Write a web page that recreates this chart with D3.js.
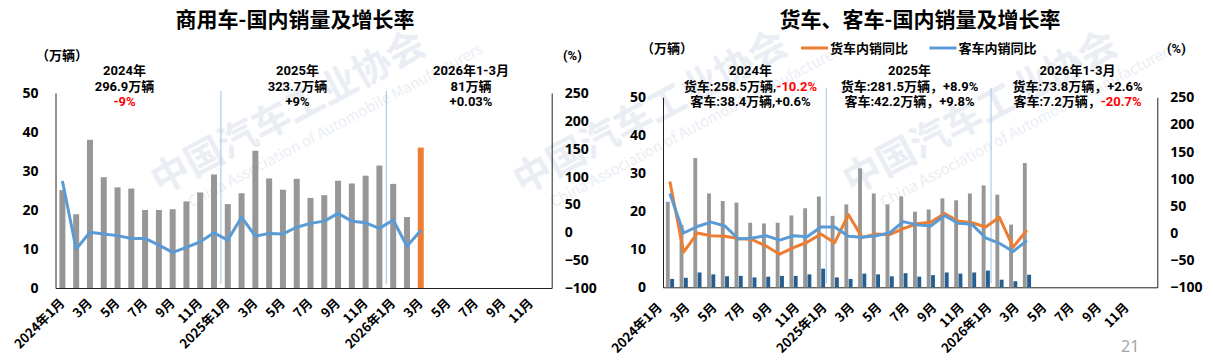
<!DOCTYPE html>
<html><head><meta charset="utf-8">
<script src="https://cdn.jsdelivr.net/npm/d3@7"></script>
<style>
body{margin:0;background:#fff;}
svg{display:block;font-family:"Noto Sans CJK SC","Noto Sans",sans-serif;}
</style>
</head><body>
<svg id="c" width="1213" height="362"></svg>
<script>
// ---------- data ----------
const months = [];
for (const y of [2024, 2025, 2026]) for (let m = 1; m <= 12; m++) months.push(y + "-" + m);
const tickLabels = ["2024年1月","3月","5月","7月","9月","11月","2025年1月","3月","5月","7月","9月","11月","2026年1月","3月","5月","7月","9月","11月"];
// 商用车 domestic sales (万辆), Jan 2024 – Mar 2026
const cvSales = [25.1,18.9,38.0,28.4,25.8,25.5,20.0,20.0,20.2,22.2,24.5,29.1,
                 21.5,24.3,35.2,28.1,25.2,28.0,23.1,23.8,27.5,26.8,28.8,31.4,
                 26.7,18.2,36.0];
const cvYoY   = [92,-30,0,-3,-6,-11,-11,-23,-36,-27,-17,-1,
                 -14,27,-7,-2,-3,9,16,20,34,20,17,7,
                 22,-25,3];
// 货车 / 客车 domestic sales (万辆)
const truckSales = [22.5,16.4,34.0,24.7,22.7,22.3,17.0,16.8,17.0,18.9,20.8,23.9,
                    18.8,21.8,31.3,24.7,21.8,23.9,19.9,20.5,23.4,22.9,24.7,26.8,
                    24.4,16.5,32.7];
const busSales   = [2.2,2.5,3.9,3.4,2.9,3.0,2.6,2.8,3.0,3.0,3.4,4.9,
                    2.6,2.2,3.6,3.4,2.9,3.7,2.8,3.2,3.9,3.6,3.9,4.4,
                    2.0,1.6,3.3];
const truckYoY = [95,-35,0,-5,-6,-10,-12,-24,-39,-27,-17,-2,
                  -18,34,-8,-2,-3,8,17,20,36,22,19,11,
                  29,-26,5];
const busYoY   = [73,0,12,20,13,-11,-9,-5,-13,-5,-7,11,
                  11,-6,-8,-5,0,21,15,13,32,18,16,-9,
                  -19,-34,-14];
const leftTicks = [0,10,20,30,40,50];
const rightTicks = [-100,-50,0,50,100,150,200,250];
const legendLabels = ["货车内销同比","客车内销同比"];
const leftNotes = [
  [["2024年"],["296.9万辆"],[["-9%","red"]]],
  [["2025年"],["323.7万辆"],["+9%"]],
  [["2026年1-3月"],["81万辆"],["+0.03%"]]
];
const rightNotes = [
  [["2024年"],["货车:258.5万辆,",["-10.2%","red"]],["客车:38.4万辆,+0.6%"]],
  [["2025年"],["货车:281.5万辆，+8.9%"],["客车:42.2万辆，+9.8%"]],
  [["2026年1-3月"],["货车:73.8万辆，+2.6%"],["客车:7.2万辆，",["-20.7%","red"]]]
];

// ---------- colours ----------
const GRAY = "#979797", ORANGE = "#ED7D31", BLUE = "#5B9BD5", NAVY = "#255E91", SEP = "#9DC3E6";
const NOTE_FONT = 'Roboto,"Noto Sans CJK SC",sans-serif';

const svg = d3.select("#c");

// watermark
const wm = svg.append("g").attr("fill", "#e2e8f0").attr("opacity", 0.7);
[[160,195],[522,195],[852,195]].forEach(([x,y]) => {
  const g = wm.append("g").attr("transform", `translate(${x},${y}) rotate(-28)`);
  g.append("text").attr("font-size", 38).attr("font-weight", 700).text("中国汽车工业协会");
  g.append("text").attr("x", 22).attr("y", 26).attr("font-size", 15).attr("font-weight", 400).text("China Association of Automobile Manufacturers");
});

function frame(cfg) {
  const g = svg.append("g");
  const x = d3.scaleBand().domain(months).range([cfg.x0, cfg.x1]).paddingInner(0).paddingOuter(0);
  const yL = d3.scaleLinear().domain([0, 50]).range([cfg.yB, cfg.yT]);
  const yR = d3.scaleLinear().domain([-100, 250]).range([cfg.yB, cfg.yT]);
  // separators
  g.selectAll("line.sep").data([12, 24]).join("line")
    .attr("x1", i => x(months[i]) + cfg.sepDx).attr("x2", i => x(months[i]) + cfg.sepDx)
    .attr("y1", cfg.sepTop).attr("y2", cfg.yB - 4)
    .attr("stroke", SEP).attr("stroke-width", 1);
  // axes
  const axL = g.append("g").attr("transform", `translate(${cfg.x0},0)`)
    .call(d3.axisLeft(yL).tickValues(leftTicks).tickSize(0).tickPadding(17));
  const axR = g.append("g").attr("transform", `translate(${cfg.x1},0)`)
    .call(d3.axisRight(yR).tickValues(rightTicks).tickSize(0).tickPadding(13));
  const axB = g.append("g").attr("transform", `translate(0,${cfg.yB})`)
    .call(d3.axisBottom(x).tickValues([]).tickSize(0));
  [axL, axR, axB].forEach(a => {
    a.select(".domain").attr("stroke", "#222").attr("stroke-width", 1);
    a.selectAll("text").attr("font-size", 14).attr("font-weight", 700).attr("fill", "#000")
      .attr("font-family", '"Noto Sans","Noto Sans CJK SC",sans-serif');
  });
  // x labels
  const tickIdx = d3.range(0, 36, 2);
  g.selectAll("text.xl").data(tickIdx).join("text")
    .attr("transform", (d, k) => `translate(${x(months[d]) + x.bandwidth()/2 + cfg.lblDx},${cfg.yB + cfg.lblDy}) rotate(-45)`)
    .attr("text-anchor", "end").attr("font-size", 13).attr("font-weight", 700)
    .text((d, k) => tickLabels[k]);
  // units
  g.append("text").attr("x", cfg.unitX).attr("y", cfg.unitY).attr("font-size", 13).attr("font-weight", 700).text("（万辆）");
  g.append("text").attr("x", cfg.pctX).attr("y", cfg.unitY).attr("font-size", 13).attr("font-weight", 700)
    .attr("font-family", NOTE_FONT).text("(%)");
  // title
  g.append("text").attr("x", cfg.titleX).attr("y", 27).attr("text-anchor", "middle")
    .attr("font-size", 21).attr("font-weight", 700).text(cfg.title);
  // notes
  cfg.notes.forEach((lines, j) => {
    lines.forEach((parts, li) => {
      const t = g.append("text").attr("x", cfg.noteX[j]).attr("y", 75 + li * 15.5)
        .attr("text-anchor", "middle").attr("font-size", 13).attr("font-weight", 700)
        .attr("font-family", NOTE_FONT);
      parts.forEach(p => {
        if (typeof p === "string") t.append("tspan").text(p);
        else t.append("tspan").attr("fill", "#FF0000").text(p[0]);
      });
    });
  });
  return {g, x, yL, yR};
}

// ---------- left chart ----------
{
  const {g, x, yL, yR} = frame({x0: 55.5, x1: 551.7, yT: 93, yB: 288, sepTop: 91, sepDx: 0,
    lblDx: 3, lblDy: 16, unitX: 36, unitY: 60, pctX: 563, titleX: 295,
    title: "商用车-国内销量及增长率", notes: leftNotes, noteX: [124.5, 297.5, 471]});
  const bw = 6;
  g.selectAll("rect.b").data(cvSales).join("rect")
    .attr("x", (d, i) => x(months[i]) + x.bandwidth()/2 - bw/2)
    .attr("width", bw)
    .attr("y", d => yL(d)).attr("height", d => yL(0) - yL(d))
    .attr("fill", (d, i) => i === cvSales.length - 1 ? ORANGE : GRAY);
  g.append("path").datum(cvYoY)
    .attr("fill", "none").attr("stroke", BLUE).attr("stroke-width", 3).attr("stroke-linejoin", "round")
    .attr("d", d3.line().x((d, i) => x(months[i]) + x.bandwidth()/2).y(d => yR(d)));
}

// ---------- right chart ----------
{
  const {g, x, yL, yR} = frame({x0: 663, x1: 1157.3, yT: 97.3, yB: 287.3, sepTop: 88, sepDx: -1.5,
    lblDx: -7, lblDy: 21, unitX: 641, unitY: 53, pctX: 1167, titleX: 920,
    title: "货车、客车-国内销量及增长率", notes: rightNotes, noteX: [750.5, 909.5, 1077.5]});
  const inner = d3.scaleBand().domain(["truck", "bus"]).range([-4, 4.2]).paddingInner(0.1);
  const groups = [["truck", truckSales, GRAY], ["bus", busSales, NAVY]];
  groups.forEach(([k, arr, col]) => {
    g.selectAll("rect." + k).data(arr).join("rect")
      .attr("x", (d, i) => x(months[i]) + x.bandwidth()/2 + inner(k))
      .attr("width", inner.bandwidth())
      .attr("y", d => yL(d)).attr("height", d => yL(0) - yL(d))
      .attr("fill", col);
  });
  const line = d3.line().x((d, i) => x(months[i]) + x.bandwidth()/2).y(d => yR(d));
  [[truckYoY, ORANGE], [busYoY, BLUE]].forEach(([arr, col]) => {
    g.append("path").datum(arr).attr("fill", "none").attr("stroke", col)
      .attr("stroke-width", 3).attr("stroke-linejoin", "round").attr("d", line);
  });
  // legend
  const lg = g.append("g");
  [[801, ORANGE], [929.5, BLUE]].forEach(([lx, col], k) => {
    lg.append("line").attr("x1", lx).attr("x2", lx + 27).attr("y1", 48).attr("y2", 48)
      .attr("stroke", col).attr("stroke-width", 3);
    lg.append("text").attr("x", lx + 29).attr("y", 53).attr("font-size", 13).attr("font-weight", 700)
      .text(legendLabels[k]);
  });
}

// page number
svg.append("text").attr("x", 1121).attr("y", 352).attr("font-size", 16).attr("fill", "#a6a6a6")
  .attr("font-family", '"Noto Sans",sans-serif').text("21");
</script>
</body></html>
